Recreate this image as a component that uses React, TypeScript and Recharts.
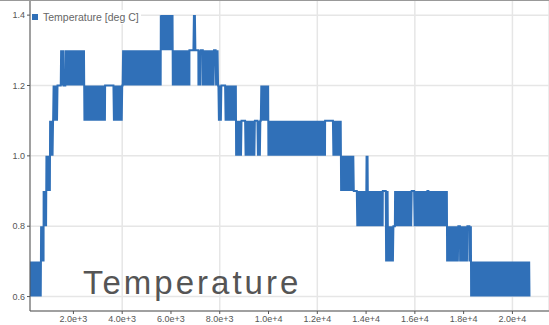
import React from "react";
import { LineChart, Line, XAxis, YAxis, CartesianGrid } from "recharts";

// Logged runs: [start, end, low reading, high reading].
// Within a run the sensor flickers between the two readings; low === high means a steady value.
const runs: [number, number, number, number][] = [
  [220, 676, 0.6, 0.7],
  [676, 779, 0.7, 0.8],
  [779, 894, 0.8, 0.9],
  [894, 1045, 0.9, 1.0],
  [1045, 1168, 1.0, 1.1],
  [1168, 1361, 1.1, 1.2],
  [1361, 1496, 1.2, 1.2],
  [1496, 1607, 1.2, 1.3],
  [1607, 1673, 1.2, 1.2],
  [1673, 2452, 1.2, 1.3],
  [2452, 3300, 1.1, 1.2],
  [3300, 3641, 1.2, 1.2],
  [3641, 4018, 1.1, 1.2],
  [4018, 5584, 1.2, 1.3],
  [5584, 6076, 1.3, 1.4],
  [6076, 6757, 1.2, 1.3],
  [6757, 6921, 1.3, 1.3],
  [6921, 7003, 1.3, 1.4],
  [7003, 7126, 1.3, 1.3],
  [7126, 7224, 1.2, 1.3],
  [7224, 7306, 1.3, 1.3],
  [7306, 7782, 1.2, 1.3],
  [7782, 7831, 1.3, 1.3],
  [7831, 7946, 1.2, 1.3],
  [7946, 8085, 1.1, 1.2],
  [8085, 8220, 1.2, 1.2],
  [8220, 8672, 1.1, 1.2],
  [8672, 8905, 1.0, 1.1],
  [8905, 9040, 1.1, 1.1],
  [9040, 9450, 1.0, 1.1],
  [9450, 9545, 1.1, 1.1],
  [9545, 9684, 1.0, 1.1],
  [9684, 9996, 1.1, 1.2],
  [9996, 12320, 1.0, 1.1],
  [12320, 12660, 1.1, 1.1],
  [12660, 12976, 1.0, 1.1],
  [12976, 13510, 0.9, 1.0],
  [13510, 13620, 0.9, 0.9],
  [13620, 14000, 0.8, 0.9],
  [14000, 14100, 0.8, 1.0],
  [14100, 14686, 0.8, 0.9],
  [14686, 14822, 0.9, 0.9],
  [14822, 14900, 0.7, 0.9],
  [14900, 15120, 0.7, 0.8],
  [15120, 15190, 0.8, 0.8],
  [15190, 15888, 0.8, 0.9],
  [15888, 15970, 0.9, 0.9],
  [15970, 16515, 0.8, 0.9],
  [16515, 16572, 0.9, 0.9],
  [16572, 17323, 0.8, 0.9],
  [17323, 17786, 0.7, 0.8],
  [17786, 17856, 0.8, 0.8],
  [17856, 18155, 0.7, 0.8],
  [18155, 18237, 0.8, 0.8],
  [18237, 18307, 0.7, 0.8],
  [18307, 20700, 0.6, 0.7],
];

const logInterval = 20;
const xTicks = [2000, 4000, 6000, 8000, 10000, 12000, 14000, 16000, 18000, 20000];
const yTicks = [0.6, 0.8, 1.0, 1.2, 1.4];

// expand the run records into the logged samples
const samples: { t: number; temp: number }[] = [];
let n = 0;
for (const [start, end, lo, hi] of runs) {
  for (let t = start; t < end; t += logInterval) {
    samples.push({ t, temp: n % 2 === 0 ? lo : hi });
    n++;
  }
}
samples.push({ t: runs[runs.length - 1][1], temp: runs[runs.length - 1][2] });

const BLUE = "#3070b8";
const FONT = "'Liberation Sans', Arial, sans-serif";

export default function App() {
  return (
    <div style={{ position: "absolute", left: 0, top: 0, width: 549, height: 325, background: "#fff", fontFamily: FONT }}>
      <LineChart width={549} height={325} data={samples} margin={{ top: 0, right: 0, bottom: 0, left: 0 }}>
        <CartesianGrid stroke="#e6e6e6" strokeWidth={1.5} />
        <XAxis
          dataKey="t"
          type="number"
          domain={[220, 21500]}
          ticks={xTicks}
          tickFormatter={(v: number) => v.toExponential(1)}
          height={14}
          tickSize={3}
          tickMargin={2}
          stroke="#555"
          tick={{ fill: "#555", fontSize: 9, fontFamily: FONT }}
          allowDataOverflow
        />
        <YAxis
          type="number"
          domain={[0.559, 1.443]}
          ticks={yTicks}
          tickFormatter={(v: number) => v.toFixed(1)}
          width={30}
          tickSize={3}
          tickMargin={2}
          stroke="#555"
          tick={{ fill: "#555", fontSize: 9, fontFamily: FONT }}
          allowDataOverflow
        />
        <Line
          type="linear"
          dataKey="temp"
          stroke={BLUE}
          strokeWidth={2}
          dot={false}
          isAnimationActive={false}
        />
      </LineChart>
      <div style={{ position: "absolute", left: 0, top: 0, width: 549, borderTop: "1.5px solid #999" }} />
      <div
        style={{
          position: "absolute",
          left: 31,
          top: 10,
          padding: "1px 2px 1px 1px",
          background: "#fff",
          display: "flex",
          alignItems: "center",
          fontSize: 10.5,
          lineHeight: "12px",
          color: "#666",
        }}
      >
        <span style={{ display: "inline-block", width: 6, height: 6, background: BLUE, marginRight: 5 }} />
        <span>Temperature [deg C]</span>
      </div>
      <div
        style={{
          position: "absolute",
          left: 83,
          top: 266,
          fontSize: 33,
          lineHeight: "33px",
          letterSpacing: 3,
          color: "#555",
          whiteSpace: "nowrap",
        }}
      >
        Temperature
      </div>
    </div>
  );
}
